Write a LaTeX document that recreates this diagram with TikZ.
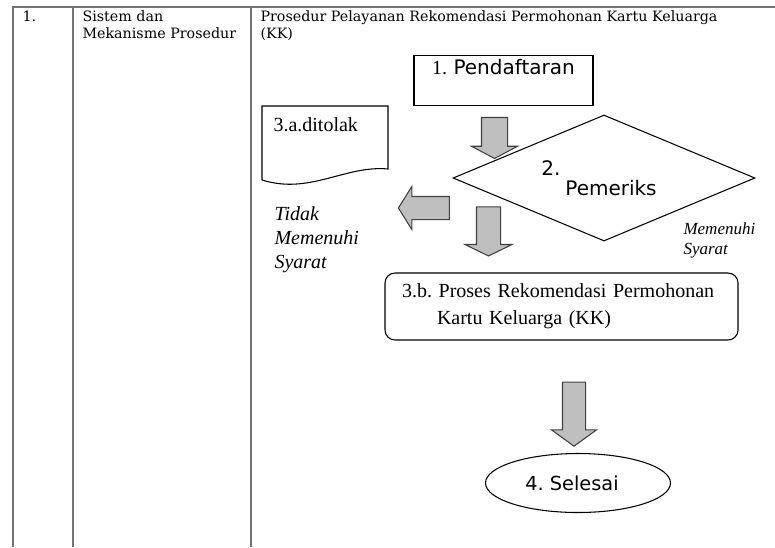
\documentclass[tikz,border=0pt]{standalone}
\usepackage{fontspec}
\setmainfont{DejaVu Serif}
\newfontfamily\timesfont{Liberation Serif}
\newfontfamily\sansfont{DejaVu Sans}
\usepackage{tikz}
\usetikzlibrary{positioning, shapes.geometric, shapes.arrows}
\frenchspacing
\colorlet{colorGrid}{black!55}
\colorlet{colorArrow}{black!25}
\tikzset{cell/.style={anchor=north west, align=left, inner sep=0pt, font=\fontsize{10.7}{12.75}\selectfont}}
\tikzset{blockarrow/.style={single arrow, draw=black!75, fill=colorArrow, inner xsep=0pt, thick}}

\begin{document}
\begin{tikzpicture}[x=0.75pt, y=-0.75pt, thick]
\useasboundingbox (0,0) rectangle (775,547);
% tabel
\draw [colorGrid, line width=1pt] (13,547) -- (13,7) -- (775,7);
\draw [colorGrid, line width=1pt] (73,7) -- (73,547);
\draw [colorGrid, line width=1pt] (251,7) -- (251,547);
\node[cell] (no) at (22,10) {1.};
\node[cell] (aspek) at (82,10) {Sistem dan\\Mekanisme Prosedur};
\node[cell] (judul) at (260,10) {Prosedur Pelayanan Rekomendasi Permohonan Kartu Keluarga\\(KK)};
% alur
\node[draw, rectangle, anchor=north, minimum width=134.25pt, inner ysep=3.5pt, text height=11pt, text depth=19.5pt, font=\sansfont\fontsize{15}{15}\selectfont] (daftar) at (503.5,55) {{\timesfont 1.} Pendaftaran};
\node[draw, diamond, aspect=2.4, minimum width=226.5pt, minimum height=94.5pt, inner sep=0pt, align=left, font=\sansfont\fontsize{15}{15}\selectfont] (periksa) at (604,178) {2.\\\hspace*{18pt}Pemeriks\hspace*{7.5pt}};
\node[anchor=west, inner sep=0pt, font=\timesfont\fontsize{15}{15}\selectfont] (ditolak) at (273,125) {3.a.ditolak};
\draw (262,180) -- (262,106) -- (388,106) -- (388,169) .. controls (345,165) and (310,195) .. (262,180);
\node[anchor=north west, align=left, inner sep=0pt, font=\timesfont\itshape\fontsize{15}{18}\selectfont] (tidak) at (274,206) {Tidak\\Memenuhi\\Syarat};
\node[anchor=north west, align=left, inner sep=0pt, font=\timesfont\itshape\fontsize{12.75}{15}\selectfont] (memenuhi) at (683,222) {Memenuhi\\Syarat};
\node[draw, rectangle, rounded corners=7.5pt, text width=239.25pt, inner xsep=12.75pt, minimum height=50.25pt, align=left, font=\timesfont\fontsize{15}{20}\selectfont] (rekom) at (561.5,306.5) {3.b. Proses Rekomendasi Permohonan\\\hspace*{26.25pt}Kartu Keluarga (KK)};
\node[draw, ellipse, minimum width=138.75pt, minimum height=44.25pt, inner sep=0pt, font=\sansfont\fontsize{14.5}{15}\selectfont] (selesai) at (578,483) {4. Selesai\hspace*{9pt}};
% panah blok
\node[blockarrow, rotate=-90, minimum height=30.75pt, inner ysep=9.375pt, single arrow head extend=7.5pt, single arrow tip angle=124] (panah1) at (494.5,134.5) {};
\node[blockarrow, rotate=180, minimum height=38.25pt, inner ysep=8.25pt, single arrow head extend=7.5pt, single arrow tip angle=116] (panah2) at (427.5,208) {};
\node[blockarrow, rotate=-90, minimum height=36.75pt, inner ysep=8.625pt, single arrow head extend=8.6pt, single arrow tip angle=128] (panah3) at (488.5,228.5) {};
\node[blockarrow, rotate=-90, minimum height=48pt, inner ysep=8.25pt, single arrow head extend=8.25pt, single arrow tip angle=108] (panah4) at (574,410) {};
\end{tikzpicture}
\end{document}
